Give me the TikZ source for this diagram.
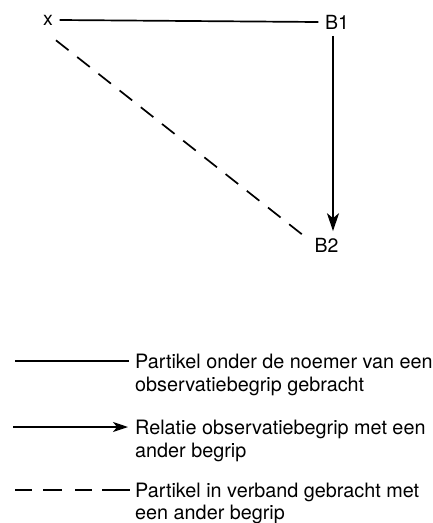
\documentclass[tikz,border=0pt]{standalone}
\usepackage{fontspec}
\setmainfont{TeX Gyre Heros}
\usetikzlibrary{arrows.meta}
\begin{document}
\begin{tikzpicture}[x=1pt,y=-1pt,
  lbl/.style={inner sep=6.5pt,font=\fontsize{19.5}{22}\selectfont},
  leg/.style={anchor=base west,inner sep=0pt,font=\fontsize{19.8}{23}\selectfont},
  conn/.style={line width=1.7pt},
  dashconn/.style={line width=1.7pt,dash pattern=on 16pt off 11pt},
  arr/.style={line width=1.7pt,-{Stealth[length=18pt,width=12pt,inset=5pt]}},
  legarr/.style={line width=1.7pt,-{Stealth[length=15pt,width=10pt,inset=4pt]}}]
\useasboundingbox (0,0) rectangle (432,523);
% diagram
\node[lbl] (x) at (48,20) {x};
\node[lbl] (B1) at (337,22) {B1};
\node[lbl] (B2) at (326.5,245) {B2};
\draw[conn] (x.east) -- (B1.west);
\draw[arr] ([xshift=-4pt]B1.south) -- ([xshift=-4pt]B1.south |- B2.north);
\draw[dashconn] ([shift={(8pt,-8.5pt)}]x.south) -- ([yshift=6pt]B2.west);
% legend
\coordinate (l1a) at (15,361); \coordinate (l1b) at (129,361);
\coordinate (l2a) at (13,427); \coordinate (l2b) at (128,427);
\coordinate (l3a) at (15,490); \coordinate (l3b) at (130,490);
\draw[conn] (l1a) -- (l1b);
\draw[legarr] (l2a) -- (l2b);
\draw[line width=1.7pt,dash pattern=on 17pt off 11pt on 19pt off 13pt on 17pt off 10pt on 28pt off 10pt] (l3a) -- (l3b);
\node[leg] (t1a) at (135,368) {Partikel onder de noemer van een};
\node[leg] (t1b) at (135,391) {observatiebegrip gebracht};
\node[leg] (t2a) at (135,434) {Relatie observatiebegrip met een};
\node[leg] (t2b) at (135,457) {ander begrip};
\node[leg] (t3a) at (135,497) {Partikel in verband gebracht met};
\node[leg] (t3b) at (135,519) {een ander begrip};
\end{tikzpicture}
\end{document}
